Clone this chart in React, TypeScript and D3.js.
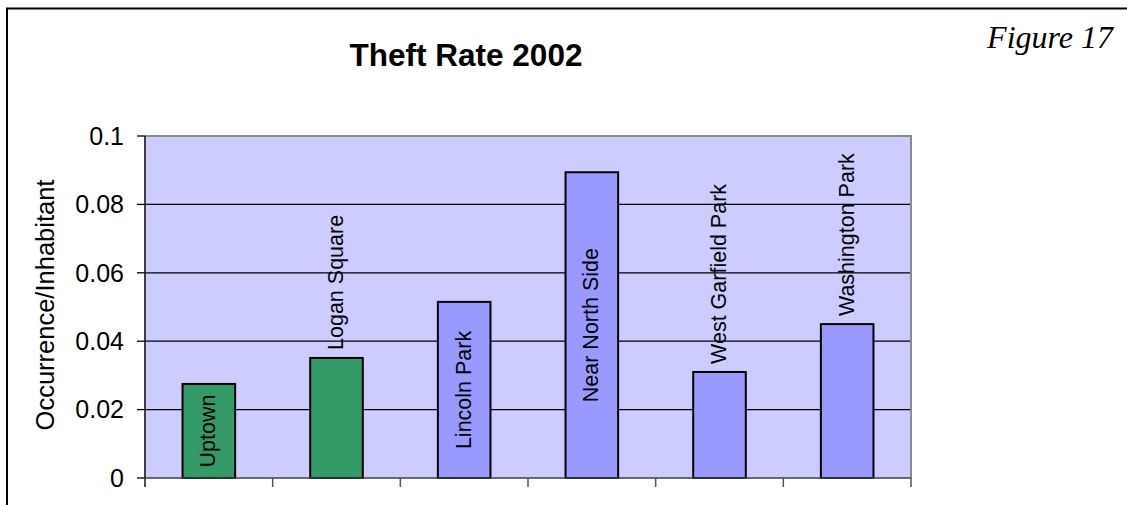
import React, { useEffect, useRef } from "react";
import * as d3 from "d3";

const categories = ["Uptown", "Logan Square", "Lincoln Park", "Near North Side", "West Garfield Park", "Washington Park"];
const values = [0.0275, 0.0351, 0.0515, 0.0894, 0.031, 0.045];
const groups = ["A", "A", "B", "B", "B", "B"];
const yTicks = [0, 0.02, 0.04, 0.06, 0.08, 0.1];
const yTickLabels = ["0", "0.02", "0.04", "0.06", "0.08", "0.1"];
const title = "Theft Rate 2002";
const figureLabel = "Figure 17";
const yAxisTitle = "Occurrence/Inhabitant";

const W = 1127;
const H = 505;
const plot = { left: 145, right: 911, top: 136, bottom: 478 };
const SANS = "'Liberation Sans', Arial, sans-serif";
const SERIF = "'Liberation Serif', 'Times New Roman', serif";

export default function App() {
  const ref = useRef<SVGSVGElement | null>(null);

  useEffect(() => {
    const svg = d3.select(ref.current);
    svg.selectAll("*").remove();

    const x = d3.scaleBand<string>().domain(categories).range([plot.left, plot.right]).paddingInner(0.588).paddingOuter(0.294);
    const y = d3.scaleLinear().domain([0, 0.1]).range([plot.bottom, plot.top]);
    const color = d3.scaleOrdinal<string, string>().domain(["A", "B"]).range(["#339966", "#9999FF"]);

    svg.append("rect").attr("x", 0).attr("y", 0).attr("width", W).attr("height", H).attr("fill", "#ffffff");
    // outer frame
    svg.append("rect").attr("x", 7).attr("y", 8.5).attr("width", W + 20).attr("height", H + 20)
      .attr("fill", "none").attr("stroke", "#000").attr("stroke-width", 2);

    // plot background
    svg.append("rect").attr("x", plot.left).attr("y", plot.top)
      .attr("width", plot.right - plot.left).attr("height", plot.bottom - plot.top).attr("fill", "#CCCCFF");

    // gridlines
    svg.append("g").selectAll("line").data(yTicks.filter((t) => t > 0 && t < 0.1)).join("line")
      .attr("x1", plot.left).attr("x2", plot.right).attr("y1", (d) => y(d)).attr("y2", (d) => y(d))
      .attr("stroke", "#000").attr("stroke-width", 1.3);

    // plot border top/right
    svg.append("path").attr("d", `M${plot.left},${plot.top}H${plot.right}V${plot.bottom}`)
      .attr("fill", "none").attr("stroke", "#8a8a8a").attr("stroke-width", 2);

    // bars
    svg.append("g").selectAll("rect").data(categories).join("rect")
      .attr("x", (d) => x(d) as number).attr("width", x.bandwidth())
      .attr("y", (d, i) => y(values[i])).attr("height", (d, i) => plot.bottom - y(values[i]))
      .attr("fill", (d, i) => color(groups[i])).attr("stroke", "#000").attr("stroke-width", 2);

    // axes lines
    svg.append("line").attr("x1", plot.left).attr("x2", plot.left).attr("y1", plot.top).attr("y2", plot.bottom + 9)
      .attr("stroke", "#404040").attr("stroke-width", 2);
    svg.append("line").attr("x1", plot.left).attr("x2", plot.right).attr("y1", plot.bottom).attr("y2", plot.bottom)
      .attr("stroke", "#404040").attr("stroke-width", 1.5);

    // y ticks
    svg.append("g").selectAll("line").data(yTicks).join("line")
      .attr("x1", plot.left - 8).attr("x2", plot.left).attr("y1", (d) => y(d)).attr("y2", (d) => y(d))
      .attr("stroke", "#000").attr("stroke-width", 1.3);
    svg.append("g").selectAll("text").data(yTicks).join("text")
      .attr("x", 124).attr("y", (d) => y(d)).attr("dy", "0.35em").attr("text-anchor", "end")
      .attr("font-family", SANS).attr("font-size", 25).attr("fill", "#000")
      .text((d, i) => yTickLabels[i]);

    // x ticks at category boundaries
    const bounds = categories.map((c) => (x(c) as number) - x.step() * x.paddingOuter()).concat([plot.right]);
    svg.append("g").selectAll("line").data(bounds).join("line")
      .attr("x1", (d) => d).attr("x2", (d) => d).attr("y1", plot.bottom).attr("y2", plot.bottom + 9)
      .attr("stroke", "#555").attr("stroke-width", 1.5);

    // bar labels
    const fs = 21.5;
    const lbl = svg.append("g").selectAll("text").data(categories).join("text")
      .attr("font-family", SANS).attr("font-size", fs).attr("fill", "#000")
      .text((d) => d);
    lbl.each(function (d, i) {
      const t = this as SVGTextElement;
      const len = t.getComputedTextLength();
      const cx = (x(d) as number) + x.bandwidth() / 2;
      const top = y(values[i]);
      const h = plot.bottom - top;
      let cy: number;
      let anchor: string;
      if (len + 12 <= h) {
        cy = top + h / 2;
        anchor = "middle";
      } else {
        cy = top - 8;
        anchor = "start";
      }
      d3.select(t).attr("text-anchor", anchor).attr("dy", "0.3em")
        .attr("transform", `translate(${cx},${cy}) rotate(-90)`);
    });

    // title
    svg.append("text").attr("x", 466).attr("y", 66).attr("text-anchor", "middle")
      .attr("font-family", SANS).attr("font-weight", "bold").attr("font-size", 31.5).text(title);
    svg.append("text").attr("x", 1113).attr("y", 48).attr("text-anchor", "end")
      .attr("font-family", SERIF).attr("font-style", "italic").attr("font-size", 32).text(figureLabel);

    // y axis title
    svg.append("text").attr("transform", `translate(54,305) rotate(-90)`).attr("text-anchor", "middle")
      .attr("font-family", SANS).attr("font-size", 25.5).text(yAxisTitle);
  }, []);

  return (
    <svg ref={ref} width={W} height={H} style={{ position: "absolute", left: 0, top: 0, display: "block" }} />
  );
}
